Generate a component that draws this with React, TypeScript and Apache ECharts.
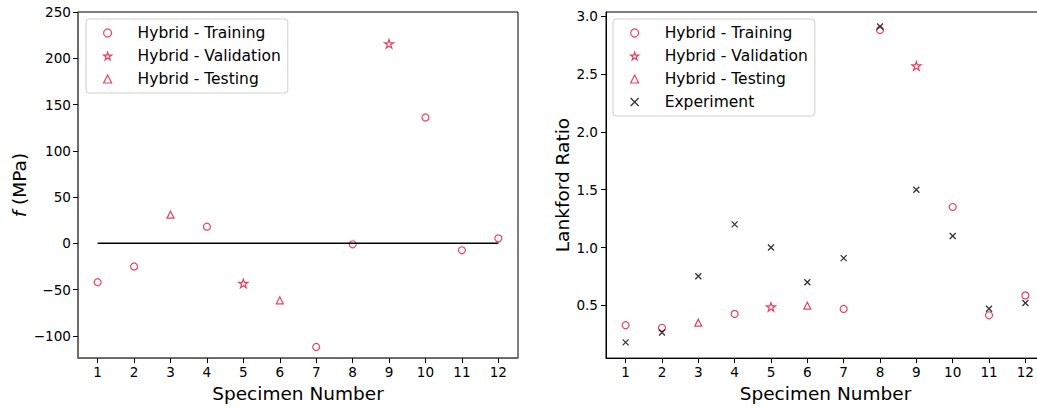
import React, { useEffect, useRef } from "react";
import * as echarts from "echarts";

const specimens = [1, 2, 3, 4, 5, 6, 7, 8, 9, 10, 11, 12];

const trainingX = [1, 2, 4, 7, 8, 10, 11, 12];
const validationX = [5, 9];
const testingX = [3, 6];

const fTraining = [-42, -25, 18, -112, -1, 136, -7.5, 5.4];
const fValidation = [-43.3, 215.6];
const fTesting = [31, -61.6];
const fZeroLine = [[1, 0], [12, 0]];

const rTraining = [0.328, 0.306, 0.426, 0.469, 2.88, 1.35, 0.414, 0.586];
const rValidation = [0.486, 2.57];
const rTesting = [0.35, 0.497];
const rExperiment = [0.18, 0.265, 0.752, 1.2, 1.0, 0.7, 0.908, 2.91, 1.5, 1.1, 0.47, 0.52];

const fTicks = [-100, -50, 0, 50, 100, 150, 200, 250];
const rTicks = [0.5, 1.0, 1.5, 2.0, 2.5, 3.0];

const FONT = '"DejaVu Sans", sans-serif';
const RED = "#DC143C";
const STAR =
  "path://M0,-1L0.2245,-0.309L0.951,-0.309L0.363,0.118L0.588,0.809L0,0.382L-0.588,0.809L-0.363,0.118L-0.951,-0.309L-0.2245,-0.309Z";
const CROSS = "path://M0,0L10,10M10,0L0,10";

const zip = (xs: number[], ys: number[]) => xs.map((x, i) => [x, ys[i]]);
const fmtMinus = (v: number) => (v < 0 ? "\u2212" + Math.abs(v) : String(v));

const hollowStyle = { color: "rgba(0,0,0,0)", borderColor: RED, borderWidth: 1.2 };
const crossStyle = { color: "rgba(0,0,0,0)", borderColor: "#000", borderWidth: 1.3 };

export default function App() {
  const ref = useRef<HTMLDivElement>(null);
  useEffect(() => {
    if (!ref.current) return;
    const chart = echarts.init(ref.current, null, { renderer: "svg" });
    const hollow = (symbol: string, size: number) => ({
      type: "scatter" as const,
      symbol,
      symbolSize: size,
      symbolKeepAspect: true,
      itemStyle: hollowStyle,
    });
    const xAxisBase = (gridIndex: number) => ({
      type: "value" as const,
      gridIndex,
      min: 0.46,
      max: 12.54,
      name: "Specimen Number",
      nameLocation: "middle" as const,
      nameGap: 21,
      nameTextStyle: { fontFamily: FONT, fontSize: 18.5, color: "#000" },
      axisLine: {
        show: true,
        onZero: false,
        lineStyle: { color: gridIndex === 0 ? "#666" : "#000", width: gridIndex === 0 ? 1.5 : 1 },
      },
      axisTick: { show: true, length: 5, lineStyle: { color: "#000" }, customValues: specimens },
      axisLabel: { fontFamily: FONT, fontSize: 13.6, color: "#000", margin: 7, customValues: specimens },
      splitLine: { show: false },
    });
    const legendItem = (name: string) =>
      name === "Experiment"
        ? { name, icon: CROSS, itemStyle: crossStyle }
        : {
            name,
            icon: name === "Hybrid - Training" ? "circle" : name === "Hybrid - Validation" ? STAR : "triangle",
            itemStyle: hollowStyle,
          };
    const legendBase = (left: number, names: string[]) => ({
      orient: "vertical" as const,
      left,
      top: 19,
      data: names.map(legendItem),
      itemWidth: 8,
      itemHeight: 8,
      itemGap: 7,
      padding: [6, 7, 6, 17],
      borderColor: "#d0d0d0",
      borderWidth: 1,
      borderRadius: 3,
      backgroundColor: "rgba(255,255,255,0.8)",
      selectedMode: false,
      textStyle: { fontFamily: FONT, fontSize: 15.5, color: "#000", lineHeight: 16, padding: [0, 0, 0, 21] },
    });
    chart.setOption({
      animation: false,
      backgroundColor: "#fff",
      grid: [
        { left: 78, top: 12, width: 440, height: 348, show: true, borderColor: "#000", borderWidth: 1, backgroundColor: "transparent" },
        { left: 606, top: 12, width: 439, height: 348, show: true, borderColor: "#000", borderWidth: 1, backgroundColor: "transparent" },
      ],
      legend: [
        legendBase(86, ["Hybrid - Training", "Hybrid - Validation", "Hybrid - Testing"]),
        legendBase(613, ["Hybrid - Training", "Hybrid - Validation", "Hybrid - Testing", "Experiment"]),
      ],
      xAxis: [xAxisBase(0), xAxisBase(1)],
      yAxis: [
        {
          type: "value",
          gridIndex: 0,
          min: -124,
          max: 250,
          name: "{i|f} (MPa)",
          nameLocation: "middle",
          nameGap: 49,
          nameRotate: 90,
          nameTextStyle: {
            fontFamily: FONT,
            fontSize: 18.5,
            color: "#000",
            rich: { i: { fontFamily: FONT, fontSize: 18.5, fontStyle: "italic", color: "#000" } },
          },
          axisLine: { show: true, onZero: false, lineStyle: { color: "#666", width: 1.5 } },
          axisTick: { show: true, length: 5, lineStyle: { color: "#000" }, customValues: fTicks },
          axisLabel: { fontFamily: FONT, fontSize: 13.6, color: "#000", margin: 7, customValues: fTicks, formatter: (v: number) => fmtMinus(v) },
          splitLine: { show: false },
        },
        {
          type: "value",
          gridIndex: 1,
          min: 0.044,
          max: 3.036,
          name: "Lankford Ratio",
          nameLocation: "middle",
          nameGap: 34,
          nameRotate: 90,
          nameTextStyle: { fontFamily: FONT, fontSize: 18.5, color: "#000" },
          axisLine: { show: true, onZero: false, lineStyle: { color: "#000", width: 1 } },
          axisTick: { show: true, length: 5, lineStyle: { color: "#000" }, customValues: rTicks },
          axisLabel: { fontFamily: FONT, fontSize: 13.6, color: "#000", margin: 8, customValues: rTicks, formatter: (v: number) => v.toFixed(1) },
          splitLine: { show: false },
        },
      ],
      series: [
        {
          name: "zero",
          type: "line",
          xAxisIndex: 0,
          yAxisIndex: 0,
          data: fZeroLine,
          symbol: "none",
          lineStyle: { color: "#000", width: 1.5 },
          silent: true,
        },
        { ...hollow("circle", 7), name: "Hybrid - Training", xAxisIndex: 0, yAxisIndex: 0, data: zip(trainingX, fTraining) },
        { ...hollow(STAR, 9), name: "Hybrid - Validation", xAxisIndex: 0, yAxisIndex: 0, data: zip(validationX, fValidation) },
        { ...hollow("triangle", 7), name: "Hybrid - Testing", xAxisIndex: 0, yAxisIndex: 0, data: zip(testingX, fTesting) },
        { ...hollow("circle", 7), name: "Hybrid - Training", xAxisIndex: 1, yAxisIndex: 1, data: zip(trainingX, rTraining) },
        { ...hollow(STAR, 9), name: "Hybrid - Validation", xAxisIndex: 1, yAxisIndex: 1, data: zip(validationX, rValidation) },
        { ...hollow("triangle", 7), name: "Hybrid - Testing", xAxisIndex: 1, yAxisIndex: 1, data: zip(testingX, rTesting) },
        {
          type: "scatter",
          name: "Experiment",
          xAxisIndex: 1,
          yAxisIndex: 1,
          symbol: CROSS,
          symbolSize: 6,
          itemStyle: crossStyle,
          data: zip(specimens, rExperiment),
        },
      ],
    });
    return () => chart.dispose();
  }, []);
  return (
    <div style={{ position: "fixed", left: 0, top: 0, width: 1037, height: 408, overflow: "hidden", background: "#fff" }}>
      <div ref={ref} style={{ width: 1050, height: 408 }} />
    </div>
  );
}
